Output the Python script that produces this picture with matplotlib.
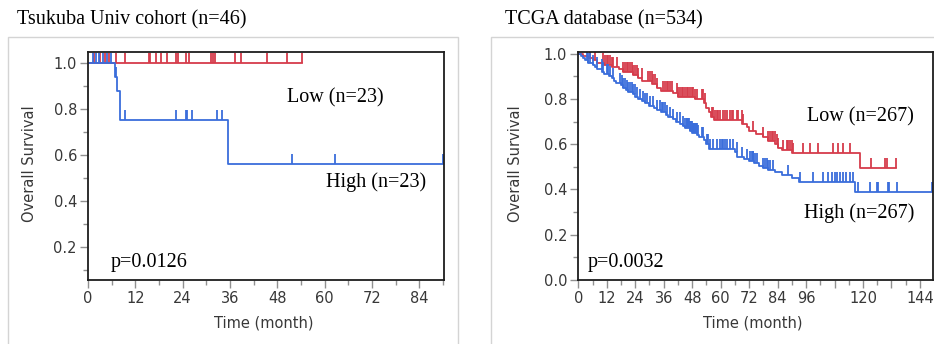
import numpy as np
import matplotlib
matplotlib.use("Agg")
import matplotlib.pyplot as plt
from matplotlib.path import Path
from matplotlib.patches import Rectangle

# ---- Tsukuba cohort (left panel) ----
tsu_low_t = [0.0]
tsu_low_s = [1.0]
tsu_low_end = 54.2
tsu_low_cens = [1.6, 3.0, 4.3, 5.3, 7.0, 9.4, 15.5, 15.7, 17.2, 18.5, 20.1, 22.3,
                22.9, 24.8, 25.5, 31.2, 31.6, 32.2, 37.2, 38.8, 45.5, 50.4, 54.2]

tsu_high_t = [0.0, 6.8, 7.4, 8.1, 35.5]
tsu_high_s = [1.0, 0.94, 0.88, 0.753, 0.563]
tsu_high_end = 90.0
tsu_high_cens = [1.3, 2.0, 2.7, 3.9, 4.8, 5.8, 7.2, 9.4, 22.3, 24.8, 25.1, 26.5,
                 32.6, 33.9, 51.7, 62.6, 90.0]

# ---- TCGA (right panel) ----
tcga_low_t = [0, 2, 4, 6, 8, 11, 14, 17, 19, 23, 25, 27, 31, 33, 35, 40, 42, 49, 53,
              54, 55, 56, 57, 69, 71, 72, 75, 78, 80, 83, 84, 86, 90, 118.7]
tcga_low_s = [1.0, 0.99, 0.98, 0.97, 0.96, 0.95, 0.94, 0.93, 0.92, 0.905, 0.89, 0.88,
              0.865, 0.85, 0.835, 0.825, 0.81, 0.80, 0.78, 0.76, 0.74, 0.72, 0.705,
              0.69, 0.675, 0.66, 0.645, 0.63, 0.615, 0.60, 0.585, 0.575, 0.559, 0.493]
tcga_low_end = 133.7
tcga_low_cens = [4.9, 7.0, 10.6, 11.3, 12.0, 12.7, 13.4, 14.1, 14.8, 16.2, 19.0, 19.7,
                 20.4, 21.1, 21.8, 22.5, 23.2, 23.9, 24.6, 25.3, 26.7, 29.5, 30.2, 30.9,
                 31.6, 32.3, 33.0, 35.8, 36.5, 37.2, 38.0, 38.7, 39.4, 41.5, 42.2, 42.9,
                 43.6, 44.3, 45.0, 45.7, 46.4, 47.1, 47.8, 48.5, 49.2, 49.9, 52.0, 52.7,
                 53.4, 56.2, 56.9, 57.6, 58.3, 59.0, 59.7, 61.1, 61.8, 62.5, 63.9, 64.6,
                 65.3, 66.8, 67.5, 68.9, 69.6, 73.8, 78.0, 80.1, 80.8, 81.5, 82.2, 82.9,
                 83.6, 84.3, 86.4, 87.8, 88.5, 89.2, 89.9, 90.6, 94.8, 97.6, 101.1, 107.5,
                 109.6, 111.7, 114.5, 123.2, 129.2, 130.0, 133.7]

tcga_high_t = [0, 1, 2, 3, 4, 6, 7, 8, 10, 11, 13, 14, 15, 16, 18, 19, 20, 21, 23, 24,
               25, 27, 28, 30, 32, 33, 35, 37, 38, 40, 41, 43, 44, 45, 47, 48, 50, 51,
               53, 54, 55, 66, 67, 70, 72, 74, 76, 78, 80, 83, 86, 90, 93, 116.6]
tcga_high_s = [1.0, 0.99, 0.98, 0.97, 0.96, 0.95, 0.94, 0.93, 0.92, 0.91, 0.90, 0.89,
               0.88, 0.87, 0.86, 0.85, 0.84, 0.83, 0.82, 0.81, 0.80, 0.79, 0.78, 0.77,
               0.76, 0.75, 0.74, 0.73, 0.72, 0.71, 0.70, 0.69, 0.68, 0.67, 0.66, 0.65,
               0.64, 0.63, 0.62, 0.60, 0.58, 0.565, 0.545, 0.535, 0.525, 0.515, 0.505,
               0.495, 0.485, 0.475, 0.465, 0.45, 0.434, 0.39]
tcga_high_end = 149.0
tcga_high_cens = [3.5, 4.2, 4.9, 6.3, 7.7, 9.8, 10.6, 12.0, 12.7, 13.4, 14.8, 17.6,
                  18.3, 19.0, 19.7, 20.4, 21.1, 21.8, 22.5, 23.2, 23.9, 24.6, 26.0, 27.4,
                  28.1, 28.8, 30.2, 31.6, 33.0, 34.4, 35.1, 35.8, 36.5, 37.2, 38.7, 40.1,
                  41.5, 42.9, 44.3, 45.0, 45.7, 46.0, 46.4, 46.8, 47.1, 47.4, 47.8, 48.2,
                  48.5, 48.8, 49.2, 49.6, 49.9, 50.6, 52.0, 52.7, 54.1, 54.8, 55.5, 56.9,
                  58.3, 59.7, 60.4, 61.1, 61.8, 62.5, 63.9, 65.3, 66.8, 68.9, 71.0, 72.4,
                  73.1, 73.5, 73.8, 74.5, 75.2, 78.0, 78.7, 79.4, 80.1, 80.8, 82.2, 88.5,
                  93.4, 99.0, 103.2, 105.4, 106.8, 108.2, 109.1, 110.3, 111.4, 112.8,
                  114.5, 115.6, 118.0, 122.9, 126.0, 126.4, 130.6, 131.1, 134.2, 148.9]

RED = "#d63c4b"
BLUE = "#3a6ddb"
GREY_TXT = "#383838"
SERIF = ["Liberation Serif", "DejaVu Serif"]

# tick that goes up from the curve
up_tick = Path([(0, 0), (0, 1)], [Path.MOVETO, Path.LINETO])


def km(ax, t, s, end, cens, color):
    t = np.asarray(t, float)
    s = np.asarray(s, float)
    ax.step(np.append(t, end), np.append(s, s[-1]), where="post", color=color, lw=1.3)
    c = np.asarray(cens, float)
    cy = s[np.searchsorted(t, c, side="right") - 1]
    ax.plot(c, cy, ls="none", marker=up_tick, ms=14, mew=1.3, mec=color, color=color)


def style(ax, xmax, xmajor, ylim):
    ax.set_xlim(0, xmax)
    ax.set_ylim(*ylim)
    ax.set_xticks(xmajor)
    ax.set_xticks(np.arange(6, xmax, 12), minor=True)
    yt = [v for v in [0.0, 0.2, 0.4, 0.6, 0.8, 1.0] if v >= ylim[0]]
    ax.set_yticks(yt)
    ax.set_yticklabels(["%.1f" % v for v in yt])
    ax.set_yticks([v for v in np.arange(0.1, 1.0, 0.2) if v >= ylim[0]], minor=True)
    ax.tick_params(which="major", length=6, width=1, color="#909090",
                   labelsize=10.5, labelcolor=GREY_TXT, pad=2)
    ax.tick_params(which="minor", length=3.5, width=1, color="#909090")
    for sp in ax.spines.values():
        sp.set_color("#1e1e1e")
        sp.set_linewidth(1.3)


W, H = 934, 344
fig = plt.figure(figsize=(W / 100, H / 100), dpi=100)


def fx(px):
    return px / W


def fy(py):
    return 1 - py / H


# light frames around each panel
fig.add_artist(Rectangle((fx(8), -0.05), fx(450), fy(37) + 0.05, transform=fig.transFigure,
                         fill=False, ec="#d4d4d4", lw=1))
fig.add_artist(Rectangle((fx(491), -0.05), 0.6, fy(37) + 0.05, transform=fig.transFigure,
                         fill=False, ec="#d4d4d4", lw=1))

ax1 = fig.add_axes([fx(88), fy(280), fx(444 - 88), (280 - 52) / H])
km(ax1, tsu_low_t, tsu_low_s, tsu_low_end, tsu_low_cens, RED)
km(ax1, tsu_high_t, tsu_high_s, tsu_high_end, tsu_high_cens, BLUE)
style(ax1, 90.3, np.arange(0, 85, 12), (0.057, 1.049))

ax2 = fig.add_axes([fx(578.3), fy(280), fx(933 - 578.3), (280 - 52) / H])
km(ax2, tcga_low_t, tcga_low_s, tcga_low_end, tcga_low_cens, RED)
km(ax2, tcga_high_t, tcga_high_s, tcga_high_end, tcga_high_cens, BLUE)
style(ax2, 149.5, np.arange(0, 145, 12), (0.0, 1.007))
ax2.set_xticklabels(["0", "12", "24", "36", "48", "60", "72", "84", "96", "", "120", "", "144"])

# axis labels
for x in (30, 515):
    fig.text(fx(x), fy(164), "Overall Survival", rotation=90, ha="center", va="center",
             fontsize=10.5, color=GREY_TXT)
for x in (264, 753):
    fig.text(fx(x), fy(323), "Time (month)", ha="center", va="center",
             fontsize=10.5, color=GREY_TXT)

# titles
fig.text(fx(17), fy(20), "Tsukuba Univ cohort (n=46)", family=SERIF, fontsize=14.5,
         va="center")
fig.text(fx(505), fy(20), "TCGA database (n=534)", family=SERIF, fontsize=14.5,
         va="center")

# group labels and p values
notes = [(287, 98, "Low (n=23)"), (326, 182, "High (n=23)"), (111, 263, "p=0.0126"),
         (807, 117, "Low (n=267)"), (804, 213, "High (n=267)"), (588, 263, "p=0.0032")]
for x, y, s in notes:
    fig.text(fx(x), fy(y), s, family=SERIF, fontsize=14.5, va="center")

fig.savefig("out.png", dpi=100)
